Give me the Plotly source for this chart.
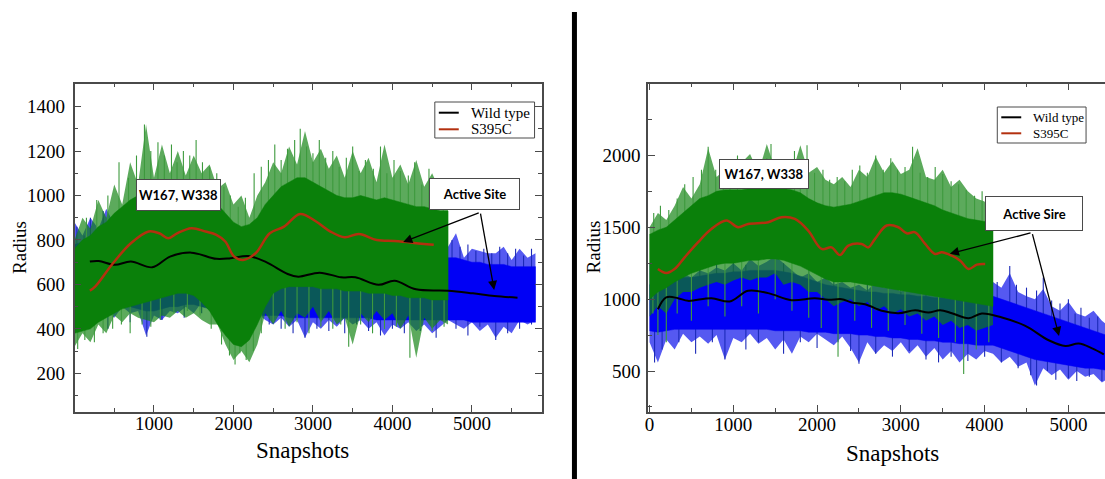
import numpy as np
import plotly.graph_objects as go

# ================= Left panel data =================
# S395C raw trajectory: dense band (core) and full range (extremes), every 100 snapshots
L_green_x = list(range(0, 4800, 100))
L_green_hi = [760, 800, 820, 860, 880, 920, 950, 980, 1000, 1020,
              1000, 1020, 1040, 1050, 1050, 1060, 1040, 1000, 960, 920,
              880, 860, 870, 900, 960, 1000, 1040, 1060, 1080, 1080,
              1060, 1040, 1020, 1000, 990, 990, 1000, 990, 980, 990,
              980, 970, 960, 950, 950, 940, 930, 930]
L_green_lo = [380, 390, 400, 430, 450, 470, 490, 500, 510, 520,
              530, 540, 550, 560, 560, 550, 520, 480, 420, 370,
              330, 320, 350, 420, 500, 560, 580, 590, 590, 590,
              590, 580, 580, 580, 570, 570, 570, 560, 560, 560,
              550, 550, 540, 540, 540, 530, 530, 530]
L_green_max = [800, 900, 850, 980, 900, 1050, 960, 1150, 1050, 1320,
               1080, 1230, 1100, 1200, 1090, 1180, 1100, 1140, 1030, 1060,
               960, 1000, 900, 1000, 1060, 1150, 1100, 1220, 1140, 1290,
               1150, 1210, 1120, 1180, 1080, 1200, 1100, 1170, 1060, 1230,
               1080, 1140, 1050, 1160, 1040, 1100, 1020, 1050]
L_green_min = [320, 380, 340, 420, 380, 460, 430, 470, 450, 440,
               430, 460, 450, 480, 450, 470, 440, 420, 420, 330,
               260, 300, 250, 330, 470, 420, 480, 410, 470, 450,
               500, 430, 480, 420, 450, 330, 470, 430, 480, 440,
               470, 400, 460, 270, 450, 400, 440, 420]
# individual spikes of the raw S395C trajectory
L_green_sx = [150, 280, 420, 560, 680, 780, 880, 960, 1050, 1130, 1220, 1290, 1370, 1450, 1530, 1610, 1700,
              1790, 1880, 1960, 2060, 2150, 2260, 2350, 2440, 2520, 2600, 2680, 2770, 2840, 2920, 3000,
              3080, 3160, 3250, 3330, 3420, 3500, 3580, 3660, 3760, 3850, 3930, 4020, 4100, 4200, 4280,
              4370, 4460, 4550, 4640,
              40, 130, 250, 360, 480, 590, 700, 850, 960, 1080, 1250, 1420, 1580, 1720, 1850, 1950, 2020,
              2080, 2160, 2250, 2350, 2500, 2650, 2800, 2950, 3100, 3250, 3350, 3450, 3600, 3750, 3900,
              4050, 4220, 4350, 4500, 4650]
L_green_sy = [900, 980, 1000, 1150, 1080, 1180, 1320, 1200, 1240, 1180, 1230, 1150, 1200, 1180, 1250, 1150, 1130,
              1100, 1040, 1000, 950, 990, 1100, 1130, 1160, 1230, 1160, 1210, 1250, 1300, 1220, 1190,
              1250, 1170, 1200, 1130, 1170, 1220, 1110, 1160, 1120, 1220, 1100, 1160, 1110, 1090, 1150,
              1050, 1120, 1020, 1060,
              310, 350, 340, 380, 400, 420, 380, 420, 410, 440, 470, 480, 460, 400, 330, 280, 240,
              290, 260, 300, 380, 430, 400, 430, 380, 410, 400, 420, 320, 420, 380, 400,
              410, 270, 400, 390, 410]

# Wild type raw trajectory
L_blue_x = list(range(0, 5900, 100))
L_blue_hi = [780, 790, 800, 800, 790, 790, 800, 810, 820, 830,
             830, 840, 850, 860, 860, 850, 840, 820, 800, 780,
             760, 760, 770, 780, 780, 770, 760, 750, 750, 740,
             740, 730, 730, 720, 720, 720, 710, 710, 710, 700,
             700, 700, 700, 700, 700, 700, 700, 720, 720, 710,
             700, 700, 690, 690, 690, 680, 680, 680, 680]
L_blue_lo = [470, 480, 480, 490, 490, 500, 500, 500, 490, 480,
             480, 490, 500, 500, 510, 510, 500, 490, 470, 450,
             440, 440, 450, 460, 460, 460, 460, 450, 450, 450,
             450, 450, 450, 450, 450, 450, 450, 450, 440, 440,
             440, 440, 440, 440, 440, 440, 440, 440, 440, 440,
             430, 430, 430, 430, 430, 430, 430, 430, 430]
L_blue_max = [880, 820, 900, 850, 940, 870, 900, 850, 900, 880,
              900, 870, 900, 880, 900, 880, 860, 850, 820, 800,
              800, 820, 850, 860, 880, 870, 850, 840, 860, 850,
              840, 830, 850, 820, 830, 810, 820, 800, 810, 800,
              790, 800, 780, 790, 770, 780, 760, 770, 830, 720,
              760, 750, 740, 740, 770, 710, 760, 720, 740]
L_blue_min = [420, 400, 460, 430, 480, 450, 500, 470, 480, 370,
              460, 440, 480, 470, 500, 470, 520, 480, 500, 460,
              480, 450, 460, 470, 440, 420, 450, 410, 440, 360,
              430, 400, 440, 410, 450, 420, 440, 400, 430, 370,
              420, 400, 430, 390, 420, 380, 410, 440, 420, 400,
              430, 390, 420, 360, 410, 380, 440, 420, 440]
L_blue_sx = [30, 120, 200, 280, 360, 4750, 4850, 4950, 5050, 5150, 5250, 5350, 5450, 5550, 5650, 5750,
             420, 700, 910, 1100, 1380, 1600, 2450, 2600, 2750, 2900, 3050, 3200, 3400, 3550, 3700, 3850,
             4000, 4150, 4350, 4550, 4800, 4950, 5100, 5300, 5450, 5600, 5750]
L_blue_sy = [860, 820, 900, 850, 930, 800, 770, 780, 750, 760, 740, 770, 740, 760, 730, 760,
             400, 430, 365, 440, 450, 470, 420, 400, 380, 360, 400, 390, 380, 420, 390, 370,
             400, 380, 390, 360, 400, 370, 410, 350, 380, 400, 420]

# smoothed (running average) curves
L_wt_x = [193, 305, 507, 709, 978, 1202, 1471, 1785, 1964, 2188, 2412, 2682, 2816, 3085, 3354, 3534,
          3825, 4027, 4296, 4700, 5013, 5283, 5574]
L_wt_y = [703, 705, 688, 703, 677, 725, 743, 715, 718, 728, 700, 647, 635, 653, 632, 632,
          598, 617, 578, 572, 560, 548, 540]
L_mut_x = [193, 260, 484, 709, 933, 1067, 1179, 1291, 1471, 1650, 1785, 1897, 2009, 2121, 2278, 2457,
           2637, 2839, 3040, 3220, 3399, 3578, 3803, 4027, 4251, 4520]
L_mut_y = [572, 590, 695, 785, 838, 830, 808, 830, 853, 838, 823, 793, 725, 710, 740, 830,
           860, 917, 883, 838, 812, 827, 800, 795, 788, 778]

# ================= Right panel data =================
R_green_x = list(range(0, 4200, 100))
R_green_hi = [1450, 1480, 1500, 1550, 1600, 1650, 1700, 1720, 1750, 1760,
              1760, 1760, 1770, 1780, 1780, 1780, 1770, 1760, 1740, 1700,
              1670, 1650, 1640, 1650, 1660, 1680, 1700, 1720, 1740, 1740,
              1730, 1710, 1690, 1670, 1650, 1620, 1600, 1580, 1560, 1550,
              1540, 1530]
R_green_lo = [1000, 1050, 1080, 1120, 1150, 1180, 1200, 1220, 1240, 1250,
              1250, 1260, 1270, 1270, 1280, 1280, 1270, 1250, 1230, 1200,
              1170, 1140, 1120, 1120, 1120, 1110, 1100, 1090, 1080, 1070,
              1060, 1050, 1040, 1030, 1020, 1010, 1000, 990, 980, 970,
              960, 950]
R_green_max = [1500, 1600, 1550, 1650, 1780, 1700, 1800, 2050, 1850, 1900,
               1850, 1950, 2010, 1880, 2080, 1900, 1960, 1870, 2070, 1880,
               1920, 1830, 1800, 1850, 1780, 1900, 1850, 1990, 1880, 1960,
               1870, 1900, 2050, 1850, 1830, 1900, 1780, 1830, 1750, 1700,
               1680, 1500]
R_green_min = [880, 950, 900, 1000, 1050, 1050, 1080, 1100, 1120, 1100,
               1130, 1150, 1130, 1150, 1150, 1180, 1100, 1120, 1100, 1050,
               1050, 1000, 950, 980, 1000, 950, 980, 920, 950, 900,
               930, 880, 900, 850, 880, 820, 850, 800, 820, 780,
               800, 820]
R_green_sx = [50, 130, 230, 330, 420, 520, 620, 700, 790, 880, 960, 1050, 1140, 1230, 1310, 1400, 1450,
              1550, 1630, 1730, 1800, 1880, 1970, 2070, 2150, 2240, 2330, 2420, 2510, 2600, 2700, 2790,
              2880, 2960, 3050, 3140, 3230, 3320, 3410, 3500, 3600, 3690, 3780, 3880, 3970, 4060,
              40, 100, 200, 330, 500, 700, 900, 1100, 1300, 1500, 1700, 1900, 2050, 2250, 2450, 2650,
              2850, 3050, 3250, 3450, 3650, 3750, 3900, 4050]
R_green_sy = [1600, 1650, 1620, 1700, 1800, 1850, 1900, 2060, 1900, 1950, 1880, 2000, 1920, 1960, 1900, 1980, 2080,
              1950, 1900, 2030, 1900, 2070, 1880, 1900, 1830, 1850, 1820, 1900, 1930, 1880, 2000, 1900,
              1980, 1900, 1920, 2060, 1880, 1850, 1920, 1870, 1820, 1800, 1760, 1720, 1750, 1650,
              900, 750, 700, 900, 850, 950, 880, 950, 900, 1000, 920, 870, 800, 600, 850, 800,
              780, 820, 760, 730, 700, 480, 650, 700]

R_blue_x = list(range(0, 5600, 100))
R_blue_hi = [1100, 1120, 1130, 1140, 1150, 1150, 1160, 1170, 1180, 1180,
             1190, 1190, 1200, 1200, 1200, 1200, 1190, 1180, 1160, 1140,
             1120, 1100, 1090, 1080, 1070, 1060, 1050, 1050, 1040, 1040,
             1030, 1030, 1020, 1020, 1010, 1010, 1000, 1000, 990, 990,
             980, 1020, 1000, 980, 960, 940, 920, 900, 880, 860,
             840, 820, 800, 780, 760, 740]
R_blue_lo = [780, 770, 780, 790, 790, 790, 790, 790, 790, 790,
             790, 790, 790, 790, 790, 780, 780, 780, 780, 770,
             770, 770, 760, 760, 760, 750, 750, 740, 740, 730,
             730, 720, 720, 710, 710, 700, 700, 690, 690, 680,
             680, 680, 660, 640, 620, 600, 580, 570, 560, 550,
             540, 530, 520, 520, 510, 500]
R_blue_max = [1250, 1150, 1200, 1120, 1180, 1150, 1200, 1180, 1220, 1200,
              1250, 1200, 1280, 1230, 1260, 1300, 1250, 1200, 1150, 1180,
              1120, 1150, 1100, 1120, 1080, 1100, 1060, 1120, 1080, 1100,
              1050, 1100, 1060, 1120, 1080, 1100, 1050, 1080, 1030, 1060,
              1040, 1120, 1080, 1180, 1050, 1020, 1000, 1070, 950, 920,
              980, 900, 880, 920, 850, 800]
R_blue_min = [700, 560, 720, 650, 760, 700, 740, 690, 750, 580,
              730, 700, 760, 690, 730, 650, 720, 620, 740, 700,
              760, 720, 680, 740, 660, 560, 700, 620, 680, 640,
              700, 620, 680, 600, 660, 580, 640, 560, 620, 580,
              640, 620, 560, 600, 530, 560, 400, 520, 470, 510,
              440, 500, 460, 480, 420, 460]
R_blue_sx = [20, 150, 400, 600, 800, 1000, 1150, 1300, 1500, 1600, 1900, 2200, 2600, 3000, 3300, 3500, 3800,
             4150, 4300, 4380, 4500, 4620, 4700, 4800, 4900, 5000, 5080, 5150, 5250, 5350, 5450,
             60, 150, 350, 550, 750, 900, 1150, 1300, 1600, 1800, 2000, 2250, 2400, 2500, 2700, 2900,
             3100, 3300, 3450, 3600, 3800, 4000, 4200, 4400, 4550, 4620, 4750, 4850, 5000, 5100, 5250,
             5400, 5500]
R_blue_sy = [1230, 1150, 1200, 1280, 1250, 1300, 1240, 1260, 1310, 1250, 1200, 1150, 1120, 1100, 1140, 1080, 1060,
             1120, 1230, 1100, 1080, 1060, 1150, 990, 970, 1000, 900, 940, 870, 880, 820,
             560, 650, 700, 620, 700, 580, 650, 700, 620, 700, 660, 700, 640, 550, 620, 600,
             640, 580, 560, 600, 570, 600, 560, 520, 470, 400, 500, 440, 450, 430, 460,
             430, 420]

R_wt_x = [100, 199, 339, 459, 738, 957, 1176, 1416, 1695, 1974, 2133, 2293, 2413, 2572, 2772, 2971,
          3170, 3330, 3469, 3609, 3808, 3967, 4207, 4486, 4765, 4964, 5124, 5283, 5423]
R_wt_y = [930, 1012, 1007, 988, 1007, 984, 1058, 1042, 993, 1007, 995, 1000, 977, 965, 919, 902,
          923, 907, 923, 902, 867, 900, 872, 814, 714, 674, 691, 658, 616]
R_mut_x = [100, 199, 299, 419, 578, 738, 917, 1057, 1176, 1416, 1575, 1735, 1894, 2054, 2173, 2273,
           2373, 2532, 2612, 2692, 2831, 2971, 3070, 3170, 3290, 3409, 3489, 3609, 3709, 3808, 3908, 4007]
R_mut_y = [1209, 1181, 1209, 1291, 1395, 1488, 1547, 1500, 1523, 1535, 1570, 1558, 1477, 1349, 1360, 1307,
           1372, 1384, 1360, 1419, 1512, 1500, 1458, 1465, 1384, 1314, 1326, 1302, 1267, 1209, 1240, 1244]

for a, b in [(L_green_x, L_green_hi), (L_green_x, L_green_lo), (L_green_x, L_green_max), (L_green_x, L_green_min),
             (L_blue_x, L_blue_hi), (L_blue_x, L_blue_lo), (L_blue_x, L_blue_max), (L_blue_x, L_blue_min),
             (R_green_x, R_green_hi), (R_green_x, R_green_lo), (R_green_x, R_green_max), (R_green_x, R_green_min),
             (R_blue_x, R_blue_hi), (R_blue_x, R_blue_lo), (R_blue_x, R_blue_max), (R_blue_x, R_blue_min),
             (L_green_sx, L_green_sy), (L_blue_sx, L_blue_sy), (R_green_sx, R_green_sy), (R_blue_sx, R_blue_sy),
             (L_wt_x, L_wt_y), (L_mut_x, L_mut_y), (R_wt_x, R_wt_y), (R_mut_x, R_mut_y)]:
    assert len(a) == len(b), (len(a), len(b))

GREEN = "#0a800a"
GREEN_HALO = "rgba(15,130,15,0.68)"
GREEN_SPIKE = "#3d9a3d"
BLUE = "#0000f5"
BLUE_HALO = "rgba(5,10,235,0.68)"
BLUE_SPIKE = "#1c2ab8"
RED = "#b3300f"

fig = go.Figure()


def spikes(sx, sy, cx, cy, color, xa, ya):
    base = np.interp(sx, cx, cy)
    xs, ys = [], []
    for x0, y0, b in zip(sx, sy, base):
        xs += [x0, x0, None]
        ys += [float(b), y0, None]
    fig.add_trace(go.Scatter(x=xs, y=ys, mode="lines", line=dict(color=color, width=1.1),
                             showlegend=False, hoverinfo="skip", xaxis=xa, yaxis=ya))


def band(x, hi, lo, color, xa, ya, lw=0.5):
    fig.add_trace(go.Scatter(x=x + x[::-1], y=hi + lo[::-1], fill="toself", mode="lines",
                             line=dict(color=color, width=lw), fillcolor=color,
                             showlegend=False, hoverinfo="skip", xaxis=xa, yaxis=ya))


def series(xa, ya, gx, ghi, glo, gmax, gmin, gsx, gsy, bx, bhi, blo, bmax, bmin, bsx, bsy,
           wx, wy, mx, my):
    band(bx, bmax, bmin, BLUE_HALO, xa, ya, 0)
    spikes(bsx, bsy, wx, wy, BLUE_SPIKE, xa, ya)
    band(bx, bhi, blo, BLUE, xa, ya)
    band(gx, gmax, gmin, GREEN_HALO, xa, ya, 0)
    spikes(gsx, gsy, mx, my, GREEN_SPIKE, xa, ya)
    band(gx, ghi, glo, GREEN, xa, ya)
    fig.add_trace(go.Scatter(x=wx, y=wy, mode="lines", name="Wild type",
                             line=dict(color="black", width=2, shape="spline"), xaxis=xa, yaxis=ya,
                             showlegend=False))
    fig.add_trace(go.Scatter(x=mx, y=my, mode="lines", name="S395C",
                             line=dict(color=RED, width=2.5, shape="spline"), xaxis=xa, yaxis=ya,
                             showlegend=False))


series("x", "y", L_green_x, L_green_hi, L_green_lo, L_green_max, L_green_min, L_green_sx, L_green_sy,
       L_blue_x, L_blue_hi, L_blue_lo, L_blue_max, L_blue_min, L_blue_sx, L_blue_sy,
       L_wt_x, L_wt_y, L_mut_x, L_mut_y)
series("x2", "y2", R_green_x, R_green_hi, R_green_lo, R_green_max, R_green_min, R_green_sx, R_green_sy,
       R_blue_x, R_blue_hi, R_blue_lo, R_blue_max, R_blue_min, R_blue_sx, R_blue_sy,
       R_wt_x, R_wt_y, R_mut_x, R_mut_y)

W, H = 1105, 479
SERIF = "Liberation Serif"
AX = "#4a4a4a"
tickfont = dict(family=SERIF, size=19, color="black")
axcommon = dict(showline=True, linecolor=AX, linewidth=1.5, ticks="inside", ticklen=7, tickcolor=AX, tickwidth=1.2,
                showgrid=False, zeroline=False, tickfont=tickfont)


def minor(d):
    return dict(dtick=d, tick0=0, ticks="inside", ticklen=4, tickcolor=AX, tickwidth=1.2)


ydom = [(H - 412) / H, (H - 83.5) / H]
fig.update_layout(
    width=W, height=H, autosize=False, margin=dict(l=0, r=0, t=0, b=0),
    paper_bgcolor="white", plot_bgcolor="white", showlegend=False,
    xaxis=dict(domain=[71.7 / W, 540.7 / W], range=[0, 5885], tickvals=[1000, 2000, 3000, 4000, 5000],
               mirror="ticks", minor=minor(500), anchor="y", ticklabelstandoff=-7, **axcommon),
    yaxis=dict(domain=ydom, range=[26, 1504], tickvals=[200, 400, 600, 800, 1000, 1200, 1400],
               mirror="ticks", minor=minor(100), anchor="x", ticklabelstandoff=4, **axcommon),
    xaxis2=dict(domain=[646.7 / W, 1.0], range=[-19, 5437], tickvals=[0, 1000, 2000, 3000, 4000, 5000],
                mirror="ticks", minor=minor(500), anchor="y2", ticklabelstandoff=-6, **axcommon),
    yaxis2=dict(domain=ydom, range=[215, 2500], tickvals=[500, 1000, 1500, 2000],
                minor=minor(250), anchor="x2", ticklabelstandoff=2, **axcommon),
)

titlefont = dict(family=SERIF, size=19, color="black")
bigfont = dict(family=SERIF, size=23, color="black")
ann = []


def paper_text(x, y, text, font, **kw):
    d = dict(x=x / W, y=(H - y) / H, xref="paper", yref="paper", text=text, showarrow=False,
             font=font, xanchor=kw.pop("xanchor", "center"), yanchor=kw.pop("yanchor", "middle"))
    d.update(kw)
    ann.append(d)


paper_text(16, 247, "Radius", titlefont, textangle=-90)
paper_text(592, 247, "Radius", titlefont, textangle=-90)
paper_text(300, 450, "Snapshots", bigfont)
paper_text(892, 453, "Snapshots", bigfont)

boxfont = dict(family="Lato", size=13, color="black")
for (x0, x1, y0, y1, txt) in [(133, 218, 179, 211, "W167, W338"), (427, 518, 178, 210, "Active Site"),
                              (718, 808, 159, 189, "W167, W338"), (985, 1083, 196, 231, "Active Sire")]:
    paper_text((x0 + x1) / 2, (y0 + y1) / 2, "<b>%s</b>" % txt, boxfont, bgcolor="white", bordercolor=AX,
               borderwidth=1, borderpad=0, width=x1 - x0 - 2, height=y1 - y0 - 2)

# arrows (head position, tail position) in data units
for (hx, hy, tx, ty, xr, yr) in [(4136, 791, 5105, 925, "x", "y"), (5280, 575, 5105, 925, "x", "y"),
                                   (3585, 1316, 4566, 1463, "x2", "y2"), (4888, 744, 4566, 1463, "x2", "y2")]:
    ann.append(dict(x=hx, y=hy, ax=tx, ay=ty, xref=xr, yref=yr, axref=xr, ayref=yr, text="",
                    showarrow=True, arrowhead=2, arrowsize=1.4, arrowwidth=1.3, arrowcolor="black"))

# legends (drawn as boxes with sample lines)
shapes = []
for (bx0, bx1, by0, by1, lx0, lx1, tx, ys, fs) in [(433, 533, 102, 138, 437, 457, 467, (112.7, 129.3), 15),
                                                   (997, 1086, 107, 143, 1001, 1021, 1031, (117.3, 133.3), 13)]:
    shapes.append(dict(type="rect", xref="paper", yref="paper", x0=bx0 / W, x1=bx1 / W,
                       y0=(H - by1) / H, y1=(H - by0) / H, line=dict(color=AX, width=1), fillcolor="white"))
    for yy, col, name in [(ys[0], "black", "Wild type"), (ys[1], RED, "S395C")]:
        shapes.append(dict(type="line", xref="paper", yref="paper", x0=lx0 / W, x1=lx1 / W,
                           y0=(H - yy) / H, y1=(H - yy) / H, line=dict(color=col, width=2)))
        paper_text(tx, yy, name, dict(family=SERIF, size=fs, color="black"), xanchor="left")

shapes.append(dict(type="line", xref="paper", yref="paper", x0=573 / W, x1=573 / W, y0=0, y1=(H - 12) / H,
                   line=dict(color="black", width=5)))
fig.update_layout(annotations=ann, shapes=shapes)

fig.write_html("out.html")
